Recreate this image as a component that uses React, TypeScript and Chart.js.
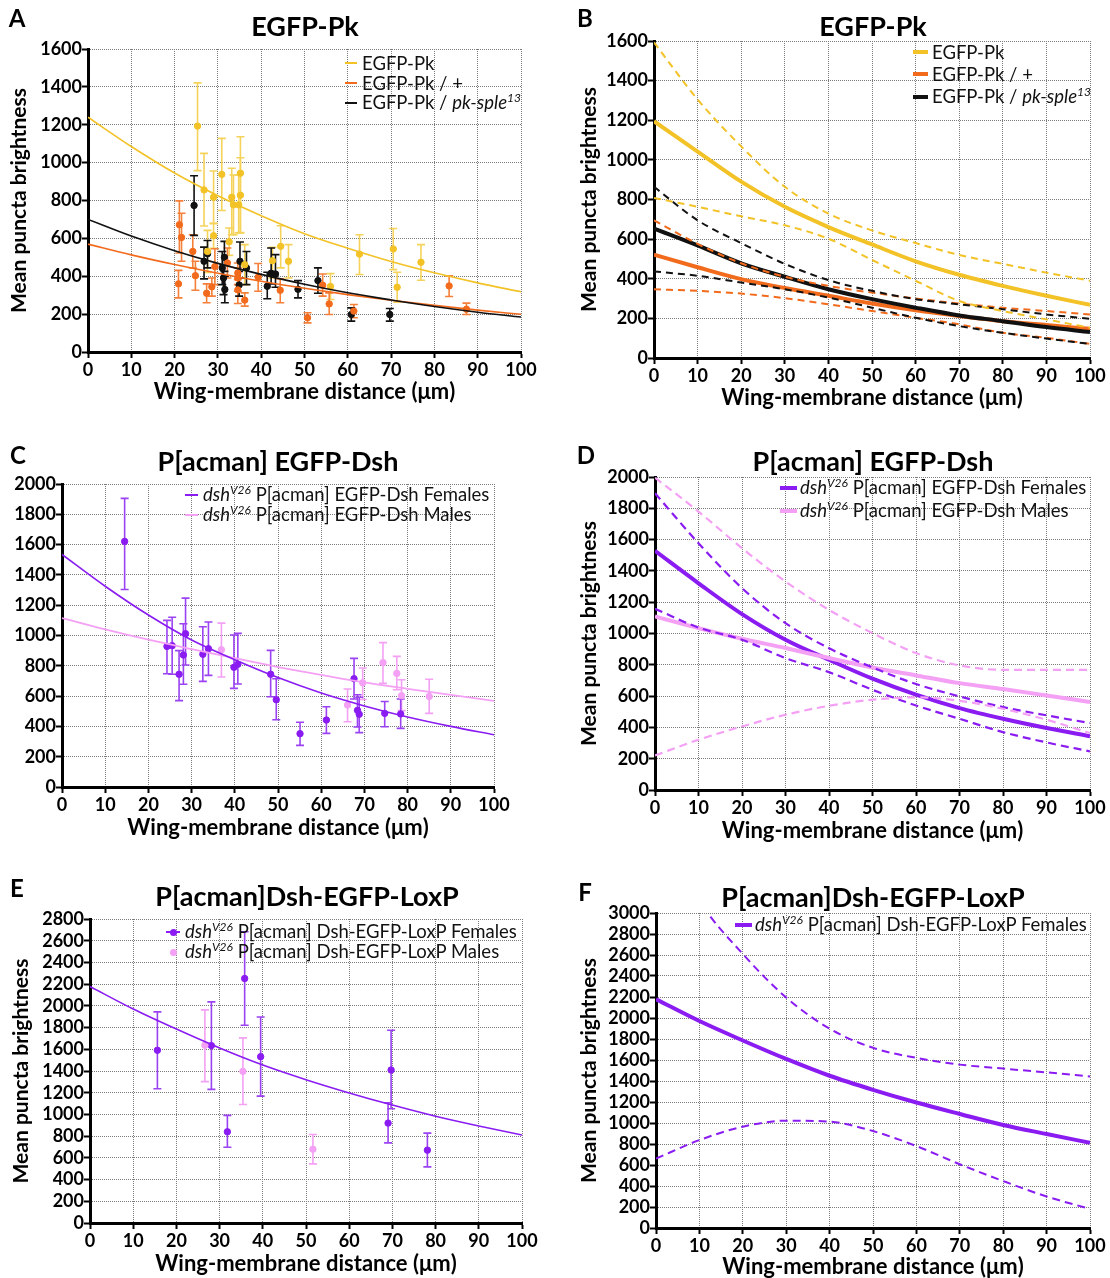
import React, { useEffect, useRef } from 'react';
import { Chart, registerables } from 'chart.js';

Chart.register(...registerables);

const FONT = 'Lato, "Open Sans", sans-serif';

const YELLOW = '#F2C227';
const YELLOW_ERR = '#F5D35A';
const ORANGE = '#F26B1D';
const ORANGE_ERR = '#F4803A';
const BLACK = '#111111';
const PURPLE = '#8A1CF2';
const PURPLE_ERR = '#9B42F2';
const PINK = '#F4A0F4';

// x positions at which fitted curves were read (µm)
const CURVE_X = [0, 10, 20, 30, 40, 50, 60, 70, 80, 90, 100];

// ---------- Panel A : [x, mean, low, high] ----------
const A_PK: number[][] = [
  [25.3, 1193, 958, 1421], [26.8, 856, 665, 1049], [29.0, 817, 678, 956], [29.0, 614, 548, 680],
  [27.6, 531, 420, 642], [30.9, 938, 747, 1128], [32.6, 582, 510, 655], [33.2, 817, 619, 970],
  [33.6, 777, 620, 935], [34.8, 777, 630, 935], [35.2, 944, 628, 1137], [35.2, 828, 631, 1026],
  [36.2, 461, 356, 567], [42.6, 482, 391, 553], [44.5, 558, 444, 667], [46.3, 479, 391, 567],
  [56.0, 346, 277, 414], [62.7, 517, 409, 619], [70.5, 544, 435, 652], [71.4, 342, 263, 421],
  [76.9, 474, 379, 567],
];
const A_HET: number[][] = [
  [21.1, 672, 523, 798], [21.6, 605, 479, 733], [20.9, 360, 286, 431], [24.2, 531, 444, 619],
  [24.8, 403, 326, 479], [27.4, 310, 260, 360], [28.6, 344, 295, 391], [29.3, 451, 356, 545],
  [32.2, 470, 391, 549], [34.6, 417, 356, 470], [34.6, 391, 321, 444], [34.6, 328, 256, 382],
  [36.2, 274, 242, 312], [39.3, 395, 321, 467], [44.4, 326, 260, 386], [54.2, 353, 295, 412],
  [55.7, 254, 198, 312], [50.7, 181, 154, 207], [61.4, 216, 181, 251], [83.4, 349, 293, 402],
  [87.4, 226, 198, 258],
];
const A_SPLE: number[][] = [
  [24.5, 774, 616, 931], [26.8, 479, 386, 554], [27.6, 519, 444, 589], [31.5, 500, 426, 584],
  [31.3, 391, 303, 461], [31.6, 330, 260, 400], [31.0, 444, 356, 531], [35.1, 479, 391, 581],
  [34.9, 354, 295, 426], [36.6, 444, 356, 531], [41.4, 347, 281, 421], [42.3, 416, 360, 549],
  [43.3, 412, 342, 514], [48.5, 331, 286, 377], [53.1, 377, 310, 444], [60.8, 198, 163, 233],
  [69.7, 198, 163, 230],
];
const A_FIT_PK = [1240, 1085, 945, 825, 720, 625, 548, 478, 418, 365, 318];
const A_FIT_HET = [570, 513, 462, 416, 374, 337, 303, 273, 246, 221, 199];
const A_FIT_SPLE = [700, 612, 535, 468, 410, 358, 313, 275, 240, 210, 185];

// ---------- Panel B : fits with confidence bands ----------
const B_PK = [1195, 1042, 890, 763, 661, 573, 488, 420, 364, 314, 268];
const B_PK_HI = [1593, 1305, 1068, 864, 729, 644, 580, 520, 475, 431, 390];
const B_PK_LO = [808, 763, 715, 670, 602, 495, 390, 288, 237, 195, 153];
const B_HET = [522, 458, 398, 353, 314, 275, 241, 212, 186, 166, 147];
const B_HET_HI = [695, 576, 478, 410, 364, 330, 300, 275, 254, 237, 220];
const B_HET_LO = [347, 339, 325, 302, 271, 237, 203, 170, 127, 102, 71];
const B_SPLE = [653, 568, 478, 410, 347, 297, 254, 215, 186, 156, 131];
const B_SPLE_HI = [864, 695, 580, 475, 393, 339, 297, 271, 246, 220, 198];
const B_SPLE_LO = [437, 415, 381, 347, 305, 254, 203, 161, 127, 98, 71];

// ---------- Panel C : [x, mean, low, high] ----------
const C_FEM: number[][] = [
  [14.5, 1621, 1304, 1905], [24.3, 928, 748, 1100], [25.5, 933, 744, 1120], [27.1, 744, 570, 900],
  [28.1, 871, 678, 1078], [28.6, 1012, 805, 1247], [32.6, 876, 697, 1058], [33.9, 913, 737, 1089],
  [39.8, 790, 651, 1003], [40.7, 810, 680, 1014], [48.3, 744, 596, 902], [49.6, 576, 444, 715],
  [55.1, 352, 275, 427], [61.2, 442, 354, 530], [67.6, 715, 581, 849], [68.4, 506, 396, 609],
  [68.8, 480, 359, 592], [74.7, 486, 398, 564], [78.4, 482, 387, 581],
];
const C_MALE: number[][] = [
  [36.9, 906, 726, 1082], [66.1, 541, 431, 647], [69.6, 688, 578, 785], [74.3, 821, 684, 953],
  [77.5, 750, 642, 862], [78.6, 603, 504, 708], [85.0, 598, 486, 711],
];
const C_FIT_F = [1535, 1325, 1135, 970, 840, 722, 620, 535, 462, 400, 345];
const C_FIT_M = [1115, 1040, 972, 910, 850, 792, 740, 690, 648, 608, 568];

// ---------- Panel D ----------
const D_F = [1528, 1321, 1124, 960, 832, 711, 609, 523, 455, 396, 343];
const D_F_HI = [1896, 1577, 1290, 1066, 906, 783, 677, 598, 530, 477, 428];
const D_F_LO = [1158, 1038, 960, 843, 753, 640, 540, 455, 370, 304, 247];
const D_M = [1109, 1034, 966, 907, 843, 783, 732, 683, 645, 604, 562];
const D_M_HI = [1996, 1779, 1545, 1332, 1151, 1002, 875, 796, 768, 768, 768];
const D_M_LO = [221, 321, 406, 481, 538, 577, 592, 570, 519, 449, 364];

// ---------- Panel E : [x, mean, low, high] ----------
const E_FEM: number[][] = [
  [15.6, 1591, 1237, 1945], [28.1, 1634, 1231, 2037], [31.8, 840, 698, 991], [35.8, 2252, 1822, 2683],
  [39.5, 1532, 1169, 1898], [69.0, 920, 738, 1108], [69.7, 1409, 1052, 1775], [78.1, 671, 517, 828],
];
const E_MALE: number[][] = [
  [26.6, 1637, 1302, 1963], [35.4, 1397, 1092, 1705], [51.6, 680, 545, 815],
];
const E_FIT = [2178, 1971, 1786, 1612, 1455, 1320, 1198, 1086, 983, 893, 810];

// ---------- Panel F ----------
const F_FIT = [2179, 1971, 1786, 1610, 1450, 1316, 1195, 1086, 981, 895, 812];
const F_HI = [3950, 3120, 2610, 2195, 1898, 1716, 1620, 1556, 1518, 1482, 1444];
const F_LO = [661, 837, 965, 1022, 1013, 923, 780, 607, 447, 300, 182];

// ---------- helpers ----------
const pts = (rows: number[][]) => rows.map((r) => ({ x: r[0], y: r[1], lo: r[2], hi: r[3] }));
const curve = (vals: number[]) => CURVE_X.map((x, i) => ({ x, y: vals[i] }));

function pointSet(rows: number[][], color: string, errColor: string, radius = 3.2) {
  return {
    type: 'scatter',
    data: pts(rows),
    backgroundColor: color,
    borderColor: color,
    pointRadius: radius,
    pointHoverRadius: radius,
    showLine: false,
    errorBars: true,
    errorColor: errColor,
    order: 1,
  };
}

function lineSet(vals: number[], color: string, width: number, dash: number[] = []) {
  return {
    type: 'line',
    data: curve(vals),
    borderColor: color,
    backgroundColor: color,
    borderWidth: width,
    borderDash: dash,
    pointRadius: 0,
    cubicInterpolationMode: 'monotone',
    fill: false,
    order: 0,
  };
}

const errorBarPlugin = {
  id: 'errorBars',
  beforeDatasetsDraw(chart: any) {
    const { ctx } = chart;
    const xs = chart.scales.x;
    const ys = chart.scales.y;
    chart.data.datasets.forEach((ds: any) => {
      if (!ds.errorBars) return;
      ctx.save();
      ctx.strokeStyle = ds.errorColor;
      ctx.lineWidth = 1.6;
      const cap = 4;
      ds.data.forEach((p: any) => {
        const px = xs.getPixelForValue(p.x);
        const yl = ys.getPixelForValue(p.lo);
        const yh = ys.getPixelForValue(p.hi);
        ctx.beginPath();
        ctx.moveTo(px, yl);
        ctx.lineTo(px, yh);
        ctx.moveTo(px - cap, yl);
        ctx.lineTo(px + cap, yl);
        ctx.moveTo(px - cap, yh);
        ctx.lineTo(px + cap, yh);
        ctx.stroke();
      });
      ctx.restore();
    });
  },
};

type PanelCfg = {
  key: string;
  L: number; T: number; W: number; H: number;
  x0: number; x1: number; yTop: number; yBot: number;
  yMax: number;
  yTitle: boolean;
  yTitlePad: number;
  xTitlePad: number;
  datasets: any[];
};

const PANELS: PanelCfg[] = [
  {
    key: 'A', L: 0, T: 0, W: 545, H: 410, x0: 88, x1: 521, yTop: 49, yBot: 352, yMax: 1600,
    yTitle: true, yTitlePad: 9, xTitlePad: 7,
    datasets: [
      lineSet(A_FIT_PK, YELLOW, 1.6),
      lineSet(A_FIT_SPLE, BLACK, 1.6),
      lineSet(A_FIT_HET, ORANGE, 1.6),
      pointSet(A_PK, YELLOW, YELLOW_ERR),
      pointSet(A_HET, ORANGE, ORANGE_ERR),
      pointSet(A_SPLE, BLACK, BLACK),
    ],
  },
  {
    key: 'B', L: 560, T: 0, W: 550, H: 410, x0: 654, x1: 1090, yTop: 41, yBot: 358, yMax: 1600,
    yTitle: true, yTitlePad: 19, xTitlePad: 1,
    datasets: [
      lineSet(B_PK_HI, YELLOW, 2, [7, 5]),
      lineSet(B_PK_LO, YELLOW, 2, [7, 5]),
      lineSet(B_SPLE_HI, BLACK, 2, [7, 5]),
      lineSet(B_SPLE_LO, BLACK, 2, [7, 5]),
      lineSet(B_HET_HI, ORANGE, 2, [7, 5]),
      lineSet(B_HET_LO, ORANGE, 2, [7, 5]),
      lineSet(B_PK, YELLOW, 4),
      lineSet(B_SPLE, BLACK, 4),
      lineSet(B_HET, ORANGE, 4),
    ],
  },
  {
    key: 'C', L: 0, T: 420, W: 520, H: 430, x0: 62, x1: 494, yTop: 484, yBot: 787, yMax: 2000,
    yTitle: false, yTitlePad: 0, xTitlePad: 11,
    datasets: [
      lineSet(C_FIT_F, PURPLE, 1.6),
      lineSet(C_FIT_M, PINK, 1.8),
      pointSet(C_MALE, PINK, PINK),
      pointSet(C_FEM, PURPLE, PURPLE_ERR),
    ],
  },
  {
    key: 'D', L: 560, T: 420, W: 550, H: 430, x0: 655, x1: 1090, yTop: 477, yBot: 790, yMax: 2000,
    yTitle: true, yTitlePad: 19, xTitlePad: 8,
    datasets: [
      lineSet(D_M_HI, PINK, 2.2, [8, 5]),
      lineSet(D_M_LO, PINK, 2.2, [8, 5]),
      lineSet(D_F_HI, PURPLE, 2.2, [8, 5]),
      lineSet(D_F_LO, PURPLE, 2.2, [8, 5]),
      lineSet(D_M, PINK, 4),
      lineSet(D_F, PURPLE, 4),
    ],
  },
  {
    key: 'E', L: 0, T: 860, W: 545, H: 418, x0: 90, x1: 522, yTop: 919, yBot: 1223, yMax: 2800,
    yTitle: true, yTitlePad: 11, xTitlePad: 3,
    datasets: [
      lineSet(E_FIT, PURPLE, 1.6),
      pointSet(E_MALE, PINK, PINK),
      pointSet(E_FEM, PURPLE, PURPLE_ERR),
    ],
  },
  {
    key: 'F', L: 560, T: 860, W: 550, H: 418, x0: 656, x1: 1090, yTop: 913, yBot: 1228, yMax: 3000,
    yTitle: true, yTitlePad: 19, xTitlePad: 0,
    datasets: [
      lineSet(F_HI, PURPLE, 2, [8, 5]),
      lineSet(F_LO, PURPLE, 2, [8, 5]),
      lineSet(F_FIT, PURPLE, 4),
    ],
  },
];

function buildConfig(p: PanelCfg): any {
  const yWidth = p.x0 - p.L;
  const xHeight = p.T + p.H - p.yBot;
  const tickFont = { family: FONT, size: 18, weight: 'bold' as const };
  return {
    type: 'scatter',
    data: { datasets: p.datasets },
    plugins: [errorBarPlugin],
    options: {
      responsive: false,
      animation: false,
      events: [],
      layout: { padding: { top: p.yTop - p.T, right: p.L + p.W - p.x1, left: 0, bottom: 0 } },
      plugins: { legend: { display: false }, tooltip: { enabled: false }, title: { display: false } },
      scales: {
        x: {
          type: 'linear',
          min: 0,
          max: 100,
          afterFit: (s: any) => { s.height = xHeight; },
          ticks: {
            stepSize: 10, color: '#000', font: tickFont, padding: 1, maxRotation: 0, autoSkip: false,
            callback: (v: any) => String(v),
          },
          grid: { color: '#7a7a7a', lineWidth: 1, drawTicks: true, tickLength: 6, tickColor: '#000', tickWidth: 2 },
          border: { display: true, color: '#000', width: 3, dash: [1, 1] },
          title: {
            display: true,
            text: 'Wing-membrane distance (μm)',
            color: '#000',
            font: { family: FONT, size: 22, weight: 'bold', lineHeight: 1 },
            padding: { top: 0, bottom: p.xTitlePad },
          },
        },
        y: {
          type: 'linear',
          min: 0,
          max: p.yMax,
          afterFit: (s: any) => { s.width = yWidth; },
          ticks: {
            stepSize: 200, color: '#000', font: tickFont, padding: 0, autoSkip: false,
            callback: (v: any) => String(v),
          },
          grid: { color: '#7a7a7a', lineWidth: 1, drawTicks: true, tickLength: 6, tickColor: '#000', tickWidth: 2 },
          border: { display: true, color: '#000', width: 3, dash: [1, 1] },
          title: {
            display: p.yTitle,
            text: 'Mean puncta brightness',
            color: '#000',
            font: { family: FONT, size: 21, weight: 'bold', lineHeight: 1 },
            padding: { top: p.yTitlePad, bottom: 0 },
          },
        },
      },
    },
  };
}

function Panel({ cfg }: { cfg: PanelCfg }) {
  const ref = useRef<HTMLCanvasElement>(null);
  useEffect(() => {
    if (!ref.current) return;
    const chart = new Chart(ref.current, buildConfig(cfg));
    return () => chart.destroy();
  }, [cfg]);
  return (
    <canvas
      ref={ref}
      width={cfg.W}
      height={cfg.H}
      style={{ position: 'absolute', left: cfg.L, top: cfg.T, width: cfg.W, height: cfg.H }}
    />
  );
}

// ---------- text overlays ----------
const LETTERS = [
  { t: 'A', x: 17, y: 18 }, { t: 'B', x: 585, y: 18 },
  { t: 'C', x: 18, y: 455 }, { t: 'D', x: 586, y: 455 },
  { t: 'E', x: 17, y: 888 }, { t: 'F', x: 585, y: 892 },
];
const TITLES = [
  { t: 'EGFP-Pk', x: 305, y: 25 }, { t: 'EGFP-Pk', x: 873, y: 25 },
  { t: 'P[acman] EGFP-Dsh', x: 278, y: 460 }, { t: 'P[acman] EGFP-Dsh', x: 873, y: 460 },
  { t: 'P[acman]Dsh-EGFP-LoxP', x: 307, y: 895 }, { t: 'P[acman]Dsh-EGFP-LoxP', x: 873, y: 896 },
];

const supStyle: React.CSSProperties = { fontSize: 12, fontStyle: 'italic', verticalAlign: 0, position: 'relative', top: -7 };
const Dsh = () => (
  <>
    <i>dsh</i>
    <sup style={supStyle}>V26</sup>
  </>
);
const Sple = () => (
  <>
    <i>pk-sple</i>
    <sup style={supStyle}>13</sup>
  </>
);

type LegendItem = { kind: 'thin' | 'thick' | 'dotline' | 'dot'; color: string; content: React.ReactNode; y: number };
type LegendCfg = { mx0: number; mx1: number; tx: number; items: LegendItem[] };

const LEGENDS: LegendCfg[] = [
  {
    mx0: 345, mx1: 357, tx: 362,
    items: [
      { kind: 'thin', color: YELLOW, y: 63, content: <>EGFP-Pk</> },
      { kind: 'thin', color: ORANGE, y: 83, content: <>EGFP-Pk / +</> },
      { kind: 'thin', color: BLACK, y: 103, content: <>EGFP-Pk / <Sple /></> },
    ],
  },
  {
    mx0: 913, mx1: 928, tx: 932,
    items: [
      { kind: 'thick', color: YELLOW, y: 52, content: <>EGFP-Pk</> },
      { kind: 'thick', color: ORANGE, y: 74, content: <>EGFP-Pk / +</> },
      { kind: 'thick', color: BLACK, y: 97, content: <>EGFP-Pk / <Sple /></> },
    ],
  },
  {
    mx0: 185, mx1: 198, tx: 203,
    items: [
      { kind: 'thin', color: PURPLE, y: 495, content: <><Dsh /> P[acman] EGFP-Dsh Females</> },
      { kind: 'thin', color: PINK, y: 515, content: <><Dsh /> P[acman] EGFP-Dsh Males</> },
    ],
  },
  {
    mx0: 780, mx1: 797, tx: 800,
    items: [
      { kind: 'thick', color: PURPLE, y: 488, content: <><Dsh /> P[acman] EGFP-Dsh Females</> },
      { kind: 'thick', color: PINK, y: 511, content: <><Dsh /> P[acman] EGFP-Dsh Males</> },
    ],
  },
  {
    mx0: 166, mx1: 180, tx: 185,
    items: [
      { kind: 'dotline', color: PURPLE, y: 932, content: <><Dsh /> P[acman] Dsh-EGFP-LoxP Females</> },
      { kind: 'dot', color: PINK, y: 952, content: <><Dsh /> P[acman] Dsh-EGFP-LoxP Males</> },
    ],
  },
  {
    mx0: 735, mx1: 752, tx: 755,
    items: [
      { kind: 'thick', color: PURPLE, y: 925, content: <><Dsh /> P[acman] Dsh-EGFP-LoxP Females</> },
    ],
  },
];

function Legend({ cfg }: { cfg: LegendCfg }) {
  return (
    <>
      {cfg.items.map((it, i) => {
        const lw = it.kind === 'thick' ? 4 : 1.6;
        const mid = (cfg.mx0 + cfg.mx1) / 2;
        return (
          <React.Fragment key={i}>
            {it.kind !== 'dot' && (
              <div
                style={{
                  position: 'absolute', left: cfg.mx0, top: it.y - lw / 2, width: cfg.mx1 - cfg.mx0, height: lw,
                  background: it.color,
                }}
              />
            )}
            {(it.kind === 'dot' || it.kind === 'dotline') && (
              <div
                style={{
                  position: 'absolute', left: mid - 3.5, top: it.y - 3.5, width: 7, height: 7, borderRadius: '50%',
                  background: it.color,
                }}
              />
            )}
            <div
              style={{
                position: 'absolute', left: cfg.tx, top: it.y, transform: 'translateY(-50%)', whiteSpace: 'nowrap',
                fontFamily: FONT, fontSize: 18.5, lineHeight: '20px', color: '#111',
              }}
            >
              {it.content}
            </div>
          </React.Fragment>
        );
      })}
    </>
  );
}

export default function App() {
  return (
    <div style={{ position: 'absolute', left: 0, top: 0, width: 1110, height: 1278, background: '#fff', overflow: 'hidden' }}>
      {PANELS.map((p) => (
        <Panel key={p.key} cfg={p} />
      ))}
      {LEGENDS.map((l, i) => (
        <Legend key={i} cfg={l} />
      ))}
      {LETTERS.map((l) => (
        <div
          key={l.t}
          style={{
            position: 'absolute', left: l.x, top: l.y, transform: 'translate(-50%,-50%)',
            fontFamily: FONT, fontWeight: 'bold', fontSize: 24, color: '#000', lineHeight: 1,
          }}
        >
          {l.t}
        </div>
      ))}
      {TITLES.map((t, i) => (
        <div
          key={i}
          style={{
            position: 'absolute', left: t.x, top: t.y, transform: 'translate(-50%,-50%)', whiteSpace: 'nowrap',
            fontFamily: FONT, fontWeight: 'bold', fontSize: 27, color: '#000', lineHeight: 1,
          }}
        >
          {t.t}
        </div>
      ))}
    </div>
  );
}
